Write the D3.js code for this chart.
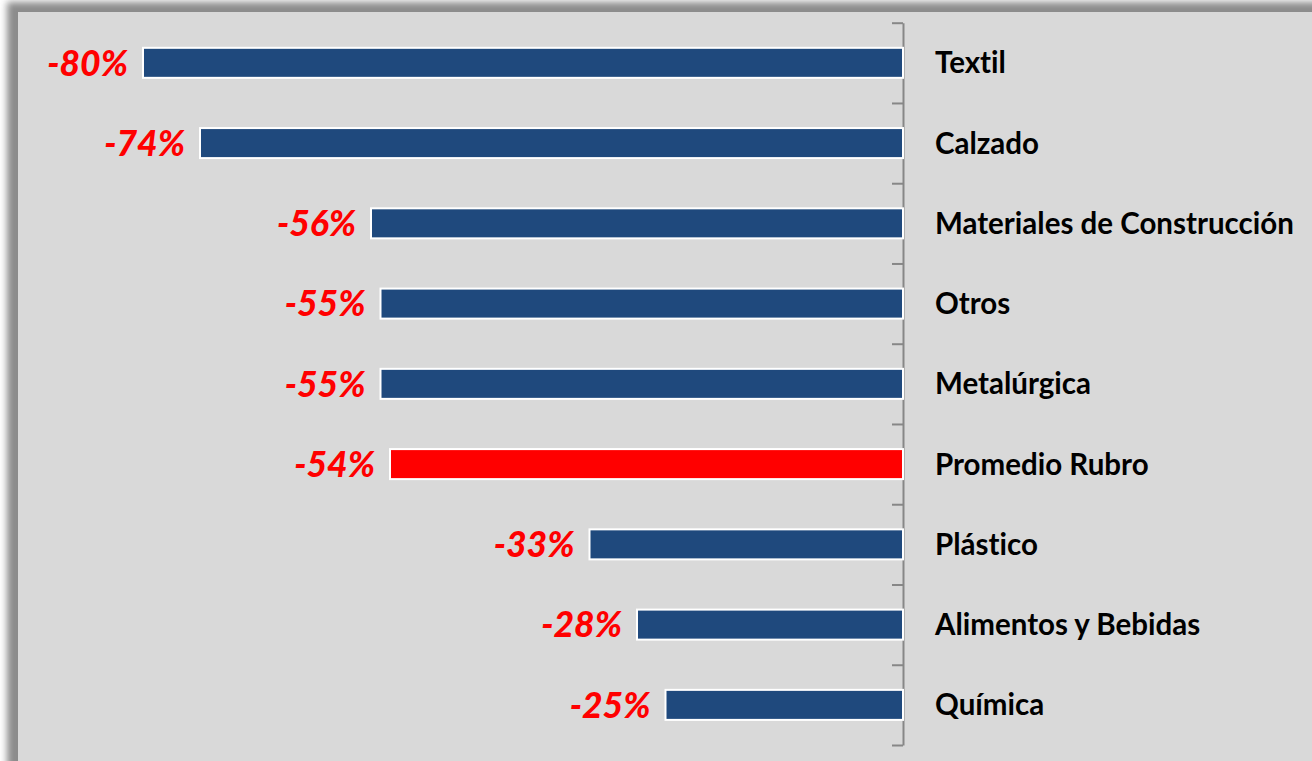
<!DOCTYPE html>
<html><head><meta charset="utf-8">
<script src="https://cdn.jsdelivr.net/npm/d3@7"></script>
<style>html,body{margin:0;padding:0;background:#fff;overflow:hidden} text{font-variant-ligatures:none;font-feature-settings:"liga" 0}</style>
</head><body>
<svg id="c" width="1312" height="761"></svg>
<script>
const categories = ["Textil","Calzado","Materiales de Construcción","Otros","Metalúrgica","Promedio Rubro","Plástico","Alimentos y Bebidas","Química"];
const values = [-0.80,-0.74,-0.56,-0.55,-0.55,-0.54,-0.33,-0.28,-0.25];
const highlight = ["Promedio Rubro"];

const svg = d3.select("#c");
const W = 1312, H = 761;
const defs = svg.append("defs");
defs.append("filter").attr("id","sh").attr("x","-5%").attr("y","-5%").attr("width","110%").attr("height","110%")
  .append("feGaussianBlur").attr("stdDeviation",3.5);
svg.append("rect").attr("x",0).attr("y",0).attr("width",W).attr("height",H).attr("fill","#ffffff");
svg.append("rect").attr("x",7).attr("y",2).attr("width",W+20).attr("height",H+20).attr("fill","#8c8c8c").attr("filter","url(#sh)");
svg.append("rect").attr("x",18).attr("y",12).attr("width",W).attr("height",H).attr("fill","#d9d9d9");

const fmt = d3.formatLocale({decimal:".",thousands:",",grouping:[3],currency:["","%"],minus:"-"}).format(".0%");

const x = d3.scaleLinear().domain([-0.8,0]).range([143,903]);
const yIdx = d3.scaleLinear().domain([0,categories.length]).range([22.7,745]);
const y = d3.scaleBand().domain(categories).range([22.7,745]).paddingInner(0.626).paddingOuter(0.313);

// axis
const ax = svg.append("g").attr("transform",`translate(${x(0)},0)`)
  .call(d3.axisLeft(yIdx).tickValues(d3.range(categories.length+1)).tickFormat("").tickSize(11).tickSizeOuter(0));
ax.select(".domain").attr("stroke","#878787").attr("stroke-width",2);
ax.selectAll(".tick line").attr("stroke","#878787").attr("stroke-width",2);

// bars
svg.append("g").selectAll("rect").data(categories).join("rect")
  .attr("x",(c,i)=>x(values[i]))
  .attr("y",c=>y(c))
  .attr("width",(c,i)=>x(0)-x(values[i]))
  .attr("height",y.bandwidth())
  .attr("fill",c=>highlight.includes(c)?"#ff0000":"#1f497d")
  .attr("stroke","#ffffff").attr("stroke-width",2);

// value labels
svg.append("g").selectAll("text").data(categories).join("text")
  .attr("x",(c,i)=>x(values[i])-15)
  .attr("y",c=>y(c)+y.bandwidth()/2)
  .attr("dy","0.36em")
  .attr("text-anchor","end")
  .attr("font-family","Lato, 'Open Sans', sans-serif")
  .attr("font-weight","900").attr("font-style","italic")
  .attr("font-size",35.5).attr("fill","#ff0000")
  .text((c,i)=>fmt(values[i]));

// category labels
svg.append("g").selectAll("text").data(categories).join("text")
  .attr("x",935)
  .attr("y",c=>y(c)+y.bandwidth()/2)
  .attr("dy","0.36em")
  .attr("font-family","Lato, 'Open Sans', sans-serif")
  .attr("font-weight","bold")
  .attr("font-size",29.5).attr("fill","#000000")
  .text(c=>c);
</script>
</body></html>
